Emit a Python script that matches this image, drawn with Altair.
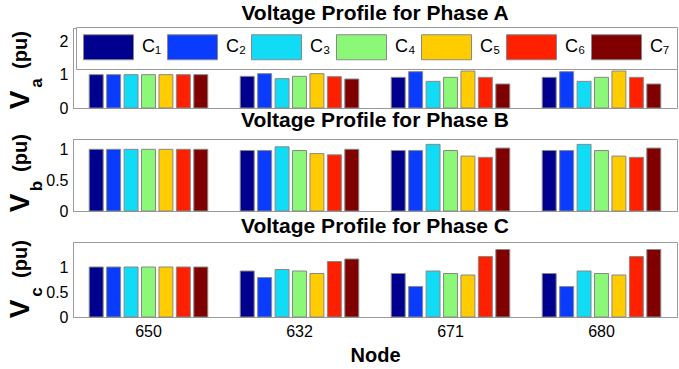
import altair as alt
import pandas as pd

nodes = ["650", "632", "671", "680"]
configs = ["C₁", "C₂", "C₃", "C₄", "C₅", "C₆", "C₇"]
colors = ["#00008f", "#0a3cff", "#10dcf6", "#8cf878", "#ffcc00", "#ff2000", "#800000"]

# values per configuration, node order: 650, 632, 671, 680
phase_a = {
    "C₁": [1.00, 0.95, 0.92, 0.92],
    "C₂": [1.00, 1.03, 1.09, 1.09],
    "C₃": [1.00, 0.88, 0.80, 0.80],
    "C₄": [1.00, 0.95, 0.92, 0.92],
    "C₅": [1.00, 1.03, 1.11, 1.11],
    "C₆": [1.00, 0.94, 0.92, 0.92],
    "C₇": [1.00, 0.87, 0.72, 0.72],
}
phase_b = {
    "C₁": [1.00, 0.98, 0.98, 0.98],
    "C₂": [1.00, 0.98, 0.98, 0.98],
    "C₃": [1.00, 1.04, 1.08, 1.08],
    "C₄": [1.00, 0.98, 0.98, 0.98],
    "C₅": [1.00, 0.93, 0.89, 0.89],
    "C₆": [1.00, 0.91, 0.87, 0.87],
    "C₇": [1.00, 1.00, 1.02, 1.02],
}
phase_c = {
    "C₁": [1.00, 0.92, 0.87, 0.87],
    "C₂": [1.00, 0.79, 0.61, 0.61],
    "C₃": [1.00, 0.95, 0.92, 0.92],
    "C₄": [1.00, 0.92, 0.87, 0.87],
    "C₅": [1.00, 0.87, 0.84, 0.84],
    "C₆": [1.00, 1.11, 1.21, 1.21],
    "C₇": [1.00, 1.16, 1.35, 1.35],
}

FONT = "Liberation Sans"
GRAY = "#9a9a9a"
W = 604


def to_df(phase):
    rows = []
    for c in configs:
        for n, v in zip(nodes, phase[c]):
            rows.append({"Node": n, "Config": c, "Value": v})
    return pd.DataFrame(rows)


def panel(phase, title, ymax, height, ticks, sub, show_x, legend):
    df = to_df(phase)
    if show_x:
        xaxis = alt.Axis(labelAngle=0, labelFontSize=16, labelFont=FONT, labelColor="black",
                         labelPadding=6, ticks=False, domainColor=GRAY,
                         title="Node", titleFontSize=20, titleFont=FONT, titleFontWeight="bold",
                         titlePadding=6, titleColor="black")
    else:
        xaxis = alt.Axis(labels=False, ticks=False, title=None, domainColor=GRAY)
    bars = alt.Chart(df).mark_bar(stroke="#888888", strokeWidth=1, opacity=1).encode(
        x=alt.X("Node:N", sort=nodes,
                scale=alt.Scale(paddingInner=0.215, paddingOuter=0.1075), axis=xaxis),
        xOffset=alt.XOffset("Config:N", sort=configs,
                            scale=alt.Scale(paddingInner=0.2, paddingOuter=0)),
        y=alt.Y("Value:Q", scale=alt.Scale(domain=[0, ymax], nice=False),
                axis=alt.Axis(values=ticks, title=None, grid=False, ticks=False,
                              labelFontSize=16, labelFont=FONT, labelColor="black",
                              labelPadding=5, domainColor=GRAY,
                              labelExpr="'' + datum.value")),
        color=alt.Color("Config:N", sort=configs,
                        scale=alt.Scale(domain=configs, range=colors), legend=legend),
    )
    dummy = pd.DataFrame({"k": [0]})
    t_v = alt.Chart(dummy).mark_text(text="V", angle=270, font=FONT, fontSize=28,
                                     fontWeight="bold", align="center", baseline="middle",
                                     color="black").encode(
        x=alt.value(-52), y=alt.value(height - 8))
    t_s = alt.Chart(dummy).mark_text(text=sub, angle=270, font=FONT, fontSize=17,
                                     fontWeight="bold", align="center", baseline="middle",
                                     color="black").encode(
        x=alt.value(-36), y=alt.value(height - 25))
    t_u = alt.Chart(dummy).mark_text(text="(pu)", angle=270, font=FONT, fontSize=20,
                                     fontWeight="bold", align="center", baseline="middle",
                                     color="black").encode(
        x=alt.value(-52), y=alt.value(height - 58))
    return alt.layer(bars, t_v, t_s, t_u).properties(
        width=W, height=height,
        title=alt.TitleParams(title, fontSize=21, font=FONT, fontWeight="bold",
                              anchor="middle", frame="group", offset=3, color="black"),
    )


legend_a = alt.Legend(
    orient="none", legendX=3, legendY=-1, direction="horizontal", title=None,
    symbolType="M-1,-1H3V1H-1Z", symbolSize=625, symbolStrokeColor="#888888",
    symbolStrokeWidth=1, symbolOpacity=1, labelFontSize=18, labelFont=FONT,
    labelColor="black", labelOffset=33, columnPadding=3, padding=7,
    fillColor="white", strokeColor=GRAY,
)

pa = panel(phase_a, "Voltage Profile for Phase A", 2.4, 80, [0, 1, 2], "a", False, legend_a)
pb = panel(phase_b, "Voltage Profile for Phase B", 1.167, 72, [0, 0.5, 1], "b", False, None)
pc = panel(phase_c, "Voltage Profile for Phase C", 1.5, 75, [0, 0.5, 1], "c", True, None)

chart = alt.vconcat(pa, pb, pc, spacing=31, bounds="flush").resolve_scale(
    color="independent").resolve_legend(color="independent").properties(
    padding={"left": 6, "top": 2, "right": 0, "bottom": 0},
    background="white",
).configure_view(stroke=GRAY, strokeWidth=1)

chart.save("out.html", embed_options={"renderer": "svg", "actions": False})
